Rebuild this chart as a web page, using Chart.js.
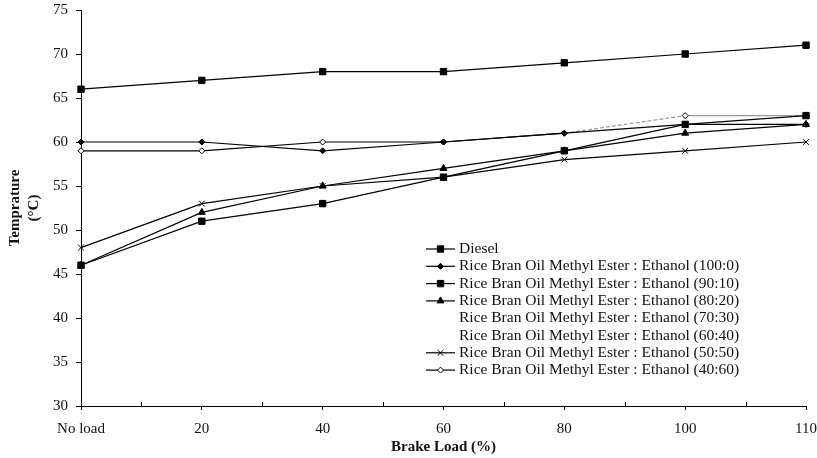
<!DOCTYPE html>
<html>
<head>
    <meta charset="UTF-8">
    <title>Brake Load vs Temprature</title>
    <script src="https://cdn.jsdelivr.net/npm/chart.js@4.4.1/dist/chart.umd.min.js"></script>
    <style>
        body { margin: 0; background: #fff; }
        #wrap { width: 817px; height: 458px; }
    </style>
</head>
<body>
    <div id="wrap">
        <canvas id="chart" width="817" height="458"></canvas>
    </div>

    <script>
        // Chart data
        var loads = ['No load', '20', '40', '60', '80', '100', '110'];
        var yTicks = [30, 35, 40, 45, 50, 55, 60, 65, 70, 75];

        var diesel  = [66, 67, 68, 68, 69, 70, 71];
        var ester100 = [60, 60, 59, 60, 61, 62, 62];
        var ester90  = [46, 51, 53, 56, 59, 62, 63];
        var ester80  = [46, 52, 55, 57, 59, 61, 62];
        var ester70  = [46, 52, 55, 56, 59, 62, 62];
        var ester60  = [46, 52, 55, 56, 59, 62, 63];
        var ester50  = [48, 53, 55, 56, 58, 59, 60];
        var ester40  = [59, 59, 60, 60, 61, 63, 63];

        var serif = "'Liberation Serif', 'Times New Roman', serif";
        var ink = '#111';

        function series(label, data, style, radius, fill, extra) {
            var ds = {
                label: label,
                data: data,
                borderColor: '#000',
                borderWidth: 1.2,
                pointStyle: style,
                pointRadius: radius,
                pointBackgroundColor: fill,
                pointBorderColor: '#000',
                pointBorderWidth: 1,
                fill: false,
                tension: 0
            };
            return Object.assign(ds, extra || {});
        }

        // legend drawn in the plot area, line + marker like the original
        var lineLegend = {
            id: 'lineLegend',
            afterDraw: function(chart, args, opts) {
                var ctx = chart.ctx;
                chart.data.datasets.forEach(function(ds, i) {
                    var y = opts.y + i * opts.step;
                    ctx.save();
                    if (!ds.noSymbol) {
                        ctx.strokeStyle = ds.borderColor;
                        ctx.lineWidth = 1.2;
                        ctx.beginPath();
                        ctx.moveTo(opts.x, y);
                        ctx.lineTo(opts.x + opts.len, y);
                        ctx.stroke();
                        ctx.fillStyle = ds.pointBackgroundColor;
                        ctx.strokeStyle = ds.pointBorderColor;
                        ctx.lineWidth = 1;
                        Chart.helpers.drawPoint(ctx, {
                            pointStyle: ds.pointStyle,
                            radius: ds.pointRadius,
                            borderWidth: 1,
                            rotation: 0
                        }, opts.x + opts.len / 2, y);
                    }
                    ctx.fillStyle = ink;
                    ctx.font = '15.5px ' + serif;
                    ctx.textBaseline = 'middle';
                    ctx.textAlign = 'left';
                    ctx.fillText(ds.label, opts.x + opts.len + 4, y);
                    ctx.restore();
                });
            }
        };

        // small inward ticks half way between the categories
        var minorTicks = {
            id: 'minorTicks',
            afterDraw: function(chart) {
                var xs = chart.scales.x;
                var ctx = chart.ctx;
                var y0 = chart.chartArea.bottom;
                ctx.save();
                ctx.strokeStyle = '#000';
                ctx.lineWidth = 1;
                for (var i = 0; i < loads.length - 1; i++) {
                    var px = Math.round((xs.getPixelForTick(i) + xs.getPixelForTick(i + 1)) / 2) + 0.5;
                    ctx.beginPath();
                    ctx.moveTo(px, y0);
                    ctx.lineTo(px, y0 - 4);
                    ctx.stroke();
                }
                ctx.restore();
            }
        };

        var ctx = document.getElementById('chart').getContext('2d');
        var myChart = new Chart(ctx, {
            type: 'line',
            data: {
                labels: loads,
                datasets: [
                    series('Diesel', diesel, 'rect', 4.5, '#000'),
                    series('Rice Bran Oil Methyl Ester : Ethanol (100:0)', ester100, 'rectRot', 3, '#000'),
                    series('Rice Bran Oil Methyl Ester : Ethanol (90:10)', ester90, 'rect', 4.5, '#000'),
                    series('Rice Bran Oil Methyl Ester : Ethanol (80:20)', ester80, 'triangle', 4, '#000'),
                    series('Rice Bran Oil Methyl Ester : Ethanol (70:30)', ester70, 'circle', 0, 'rgba(0,0,0,0)',
                        { borderColor: 'rgba(255,255,255,0)', pointBorderColor: 'rgba(255,255,255,0)', noSymbol: true, order: 5 }),
                    series('Rice Bran Oil Methyl Ester : Ethanol (60:40)', ester60, 'circle', 0, 'rgba(0,0,0,0)',
                        { borderColor: 'rgba(255,255,255,0)', pointBorderColor: 'rgba(255,255,255,0)', noSymbol: true, order: 5 }),
                    series('Rice Bran Oil Methyl Ester : Ethanol (50:50)', ester50, 'crossRot', 4, '#000'),
                    series('Rice Bran Oil Methyl Ester : Ethanol (40:60)', ester40, 'rectRot', 3, '#fff', {
                        segment: {
                            borderColor: function(c) { return c.p0DataIndex >= 4 ? '#999' : '#000'; },
                            borderDash: function(c) { return c.p0DataIndex === 4 ? [4, 2] : []; }
                        }
                    })
                ]
            },
            options: {
                responsive: false,
                animation: false,
                events: [],
                layout: { padding: 0 },
                plugins: {
                    legend: { display: false },
                    tooltip: { enabled: false },
                    lineLegend: { x: 426, len: 29, y: 249, step: 17.3 }
                },
                scales: {
                    x: {
                        offset: false,
                        grid: { drawOnChartArea: false, offset: false, tickLength: 4, tickColor: '#000' },
                        border: { color: '#000', width: 1 },
                        ticks: { font: { family: serif, size: 15 }, color: ink, padding: 10, maxRotation: 0, autoSkip: false },
                        title: {
                            display: true,
                            text: 'Brake Load (%)',
                            font: { family: serif, size: 15, weight: 'bold' },
                            color: ink,
                            padding: { top: 0, bottom: 2 }
                        },
                        afterFit: function(s) {
                            s.height = 52;
                            s.paddingLeft = 0;
                            s.paddingRight = 11;
                        }
                    },
                    y: {
                        min: 30,
                        max: 75,
                        afterBuildTicks: function(s) { s.ticks = yTicks.map(function(v) { return { value: v }; }); },
                        grid: { drawOnChartArea: false, tickLength: 5, tickColor: '#000' },
                        border: { color: '#000', width: 1 },
                        ticks: { font: { family: serif, size: 15 }, color: ink, padding: 8 },
                        title: {
                            display: true,
                            text: ['Temprature', '(°C)'],
                            font: { family: serif, size: 15, weight: 'bold', lineHeight: 1.25 },
                            color: ink,
                            padding: { top: 6, bottom: 0 }
                        },
                        afterFit: function(s) {
                            s.width = 81;
                            s.paddingTop = 10;
                            s.paddingBottom = 0;
                        }
                    }
                }
            },
            plugins: [lineLegend, minorTicks]
        });
    </script>
</body>
</html>
